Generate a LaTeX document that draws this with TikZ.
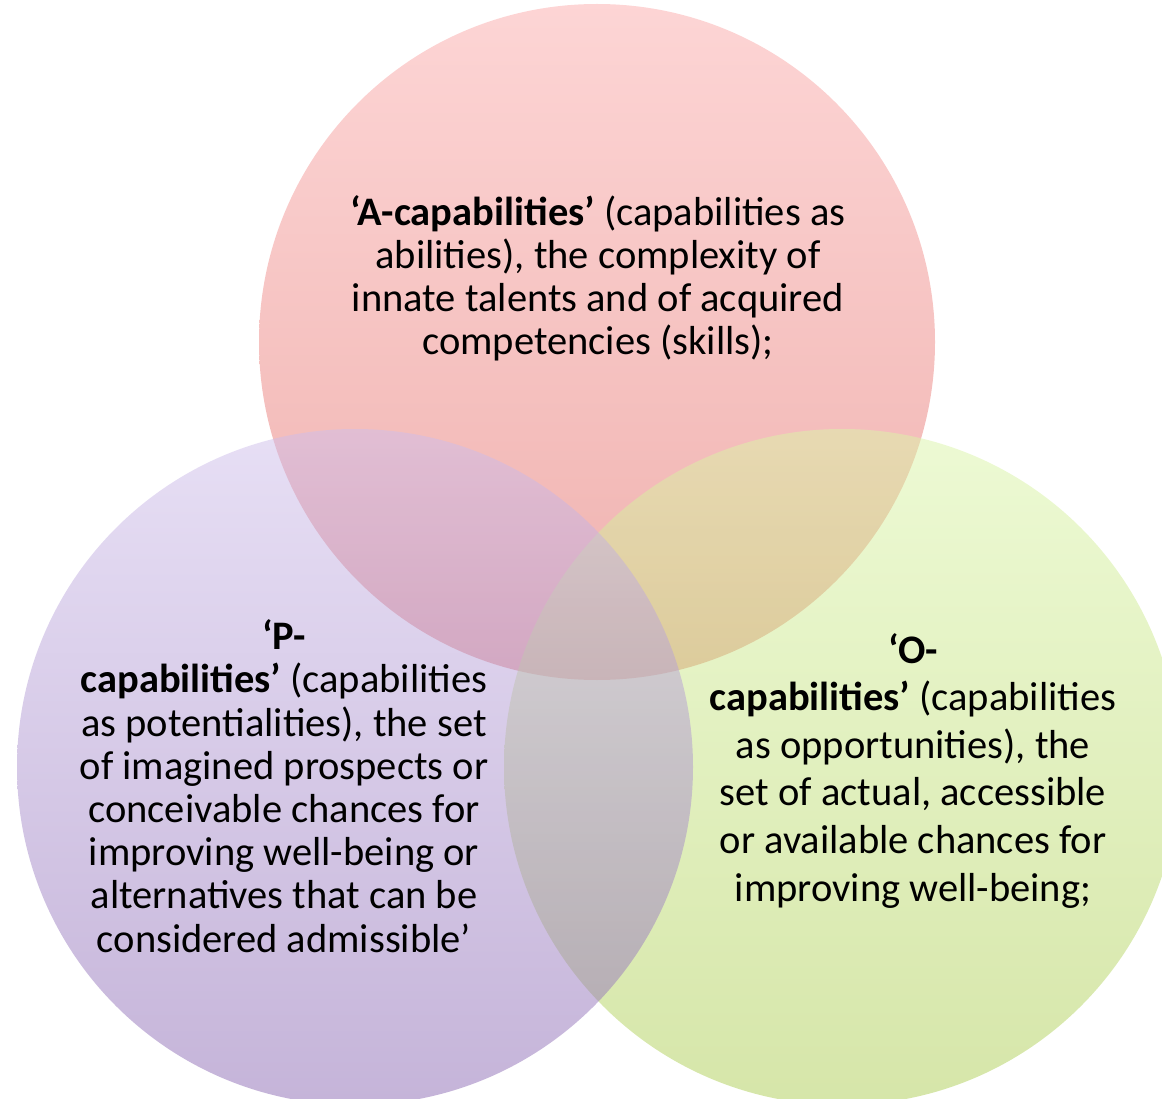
\documentclass[tikz,border=0pt]{standalone}
\usepackage{fontspec}
\setmainfont{Carlito}
\definecolor{redTop}{RGB}{251,171,171}
\definecolor{redBot}{RGB}{223,99,93}
\definecolor{purTop}{RGB}{207,191,235}
\definecolor{purBot}{RGB}{139,105,179}
\definecolor{grnTop}{RGB}{219,245,169}
\definecolor{grnBot}{RGB}{173,205,83}
\tikzset{
  venn/.style={fill opacity=0.5},
  vtext/.style={align=center, inner sep=0pt, anchor=base, text=black,
    font=\fontsize{40.5}{43.2}\selectfont},
  vtextwide/.style={vtext, font=\fontsize{40.5}{47.6}\selectfont}
}
\begin{document}
\begin{tikzpicture}[x=1pt,y=-1pt]
\useasboundingbox (0,0) rectangle (1162,1099);
\clip (0,0) rectangle (1162,1099);
\shade[venn, top color=redTop, bottom color=redBot] (597,342) circle (338);
\shade[venn, top color=grnTop, bottom color=grnBot] (842,767) circle (338);
\shade[venn, top color=purTop, bottom color=purBot] (355,767) circle (338);
\node[vtext] (atext) at (598,355) {\textbf{‘A-capabilities’} (capabilities as\\abilities), the complexity of\\innate talents and of acquired\\competencies (skills);};
\node[vtext] (ptext) at (284,952) {\textbf{‘P-}\\\textbf{capabilities’} (capabilities\\as potentialities), the set\\of imagined prospects or\\conceivable chances for\\improving well-being or\\alternatives that can be\\considered admissible’};
\node[vtextwide] (otext) at (913,901) {\textbf{‘O-}\\\textbf{capabilities’} (capabilities\\as opportunities), the\\set of actual, accessible\\or available chances for\\improving well-being;};
\end{tikzpicture}
\end{document}
